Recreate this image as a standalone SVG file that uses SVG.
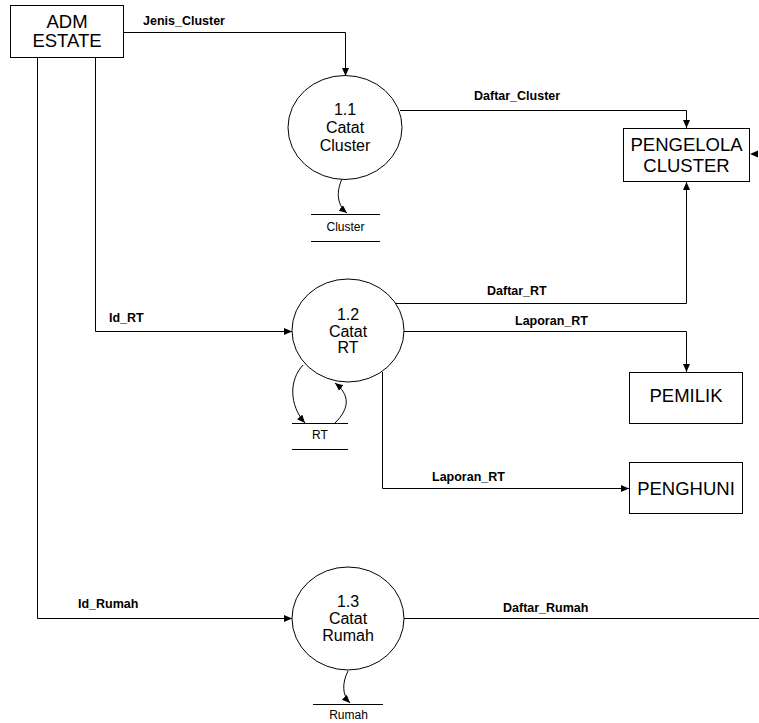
<svg xmlns="http://www.w3.org/2000/svg" width="759" height="723" viewBox="0 0 759 723">
<style>
.box{fill:#fff;stroke:#000;stroke-width:1}
.proc{fill:#fff;stroke:#000;stroke-width:1}
.ent{font-family:"Liberation Sans",Arial,sans-serif;font-size:18.5px;fill:#000;text-anchor:middle}
.ptxt{font-family:"Liberation Sans",Arial,sans-serif;font-size:16px;fill:#000;text-anchor:middle}
.lbl{font-family:"Liberation Sans",Arial,sans-serif;font-size:12.5px;font-weight:bold;fill:#000}
.st{font-family:"Liberation Sans",Arial,sans-serif;font-size:12px;fill:#000;text-anchor:middle}
.ln{fill:none;stroke:#000;stroke-width:1}
.ds{stroke:#000;stroke-width:1}
</style>
<defs>
<marker id="arr" markerUnits="userSpaceOnUse" markerWidth="9" markerHeight="8" refX="8" refY="3.5" orient="auto">
<path d="M0,0 L8,3.5 L0,7 z" fill="#000"/>
</marker>
</defs>

<g id="connectors">
<path class="ln" d="M123,32.5 H345.5 V76" marker-end="url(#arr)"/>
<path class="ln" d="M400,110.5 H686.5 V128" marker-end="url(#arr)"/>
<path class="ln" d="M342,179 C336,192 337,205 347,213" marker-end="url(#arr)"/>
<path class="ln" d="M395,303.5 H686.5 V182" marker-end="url(#arr)"/>
<path class="ln" d="M404,331.5 H686.5 V372" marker-end="url(#arr)"/>
<path class="ln" d="M382.5,372 V488.5 H629" marker-end="url(#arr)"/>
<path class="ln" d="M95.5,57 V331.5 H292" marker-end="url(#arr)"/>
<path class="ln" d="M37.5,57 V618.5 H292" marker-end="url(#arr)"/>
<path class="ln" d="M404,618.5 H759"/>
<path class="ln" d="M303,365 C289,380 289,405 305,423" marker-end="url(#arr)"/>
<path class="ln" d="M335,423 C350,408 350,395 335,383" marker-end="url(#arr)"/>
<path class="ln" d="M348,671 C342,683 342,695 350,703" marker-end="url(#arr)"/>
<path d="M750,154 L758,150.5 L758,157.5 z" fill="#000"/>
<text class="lbl" x="143" y="25">Jenis_Cluster</text>
<text class="lbl" x="474" y="100">Daftar_Cluster</text>
<text class="lbl" x="109" y="322">Id_RT</text>
<text class="lbl" x="487" y="295">Daftar_RT</text>
<text class="lbl" x="515" y="325">Laporan_RT</text>
<text class="lbl" x="432" y="481">Laporan_RT</text>
<text class="lbl" x="78" y="608">Id_Rumah</text>
<text class="lbl" x="503" y="612">Daftar_Rumah</text>
</g>

<g id="adm_estate">
<rect class="box" x="10.5" y="5.5" width="113" height="52"/>
<text class="ent" x="67" y="28">ADM</text>
<text class="ent" x="67" y="47">ESTATE</text>
</g>

<g id="pengelola_cluster">
<rect class="box" x="623.5" y="128.5" width="126" height="53"/>
<text class="ent" x="686.5" y="151">PENGELOLA</text>
<text class="ent" x="686.5" y="172">CLUSTER</text>
</g>

<g id="pemilik">
<rect class="box" x="629.5" y="372.5" width="113" height="51"/>
<text class="ent" x="686" y="402">PEMILIK</text>
</g>

<g id="penghuni">
<rect class="box" x="629.5" y="462.5" width="113" height="51"/>
<text class="ent" x="686" y="495">PENGHUNI</text>
</g>

<g id="p1_1">
<ellipse class="proc" cx="345" cy="127.5" rx="57" ry="52"/>
<text class="ptxt" x="345" y="115">1.1</text>
<text class="ptxt" x="345" y="133">Catat</text>
<text class="ptxt" x="345" y="151">Cluster</text>
</g>

<g id="p1_2">
<ellipse class="proc" cx="348" cy="330.5" rx="56" ry="51.5"/>
<text class="ptxt" x="348" y="320">1.2</text>
<text class="ptxt" x="348" y="337">Catat</text>
<text class="ptxt" x="348" y="353">RT</text>
</g>

<g id="p1_3">
<ellipse class="proc" cx="348" cy="618.5" rx="56" ry="51.5"/>
<text class="ptxt" x="348" y="607">1.3</text>
<text class="ptxt" x="348" y="624">Catat</text>
<text class="ptxt" x="348" y="641">Rumah</text>
</g>

<g id="ds_cluster">
<line class="ds" x1="311" y1="214.5" x2="380" y2="214.5"/>
<line class="ds" x1="311" y1="241.5" x2="380" y2="241.5"/>
<text class="st" x="345.5" y="231">Cluster</text>
</g>

<g id="ds_rt">
<line class="ds" x1="292" y1="423.5" x2="348" y2="423.5"/>
<line class="ds" x1="292" y1="449.5" x2="348" y2="449.5"/>
<text class="st" x="320" y="439">RT</text>
</g>

<g id="ds_rumah">
<line class="ds" x1="313" y1="704.5" x2="383" y2="704.5"/>
<text class="st" x="348.5" y="719">Rumah</text>
</g>
</svg>
